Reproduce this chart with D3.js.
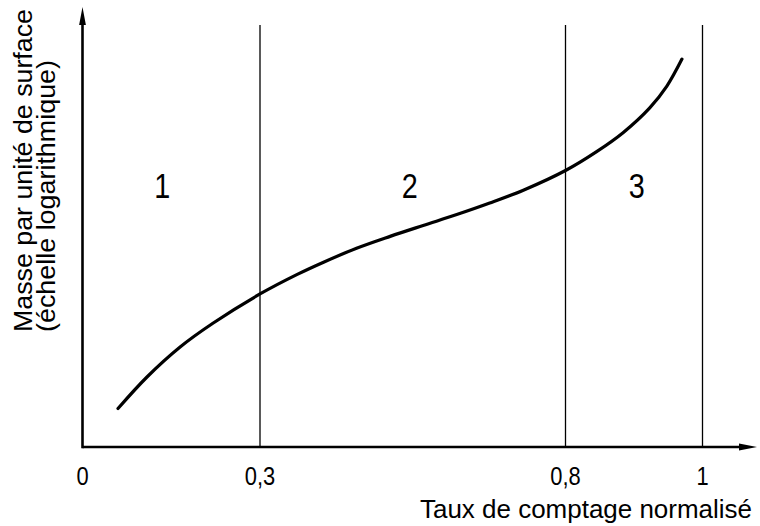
<!DOCTYPE html>
<html>
<head>
<meta charset="utf-8">
<script src="https://cdn.jsdelivr.net/npm/d3@7"></script>
<style>
  html, body { margin: 0; padding: 0; background: #fff; }
  svg { display: block; }
</style>
</head>
<body>
<script>
// ---- data ----
const tickValues = [0, 0.3, 0.8, 1];
const tickLabels = ["0", "0,3", "0,8", "1"];
const boundaryValues = [0.3, 0.8, 1];
const regionLabels = ["1", "2", "3"];
const regionCenters = [0.135, 0.545, 0.904];
const curveX = [0.06, 0.109, 0.165, 0.221, 0.3, 0.361, 0.404, 0.458, 0.513, 0.567, 0.622, 0.676, 0.731, 0.8, 0.846, 0.884, 0.923, 0.948, 0.97];
const curveY = [0.0912, 0.1659, 0.2370, 0.2938, 0.3626, 0.4090, 0.4379, 0.4709, 0.4991, 0.5249, 0.5507, 0.5780, 0.6085, 0.6552, 0.7005, 0.7448, 0.8036, 0.8552, 0.9192];
const xTitle = "Taux de comptage normalisé";
const yTitle = ["Masse par unité de surface", "(échelle logarithmique)"];

// ---- layout ----
const W = 760, H = 526;
const svg = d3.select("body").append("svg").attr("width", W).attr("height", H);

const x = d3.scaleLinear().domain(tickValues).range([82.5, 260, 565.5, 702.5]);
const y = d3.scaleLinear().domain([0, 1]).range([447, 25]);

const x0 = x(0), y0 = y(0);
const axisRight = 757, axisTop = 7;
const narrowFont = "'Liberation Sans', Arial, sans-serif";

// boundary lines
svg.selectAll("line.bound").data(boundaryValues).enter().append("line")
  .attr("class", "bound")
  .attr("x1", d => x(d)).attr("x2", d => x(d))
  .attr("y1", y(1)).attr("y2", y0)
  .attr("stroke", "#000").attr("stroke-width", 1.3);

// axes
svg.append("line").attr("x1", x0).attr("x2", axisRight - 14).attr("y1", y0).attr("y2", y0)
  .attr("stroke", "#000").attr("stroke-width", 2.6);
svg.append("line").attr("x1", x0).attr("x2", x0).attr("y1", y0 + 1.3).attr("y2", axisTop + 14)
  .attr("stroke", "#000").attr("stroke-width", 2.6);
// arrows
svg.append("path")
  .attr("d", `M${axisRight},${y0} L${axisRight - 18},${y0 - 3.4} L${axisRight - 18},${y0 + 3.4} Z`)
  .attr("fill", "#000");
svg.append("path")
  .attr("d", `M${x0},${axisTop} L${x0 - 3.4},${axisTop + 18} L${x0 + 3.4},${axisTop + 18} Z`)
  .attr("fill", "#000");

// curve
const pts = curveX.map((d, i) => [d, curveY[i]]);
const line = d3.line().x(d => x(d[0])).y(d => y(d[1])).curve(d3.curveCatmullRom.alpha(0.5));
svg.append("path").attr("d", line(pts))
  .attr("fill", "none").attr("stroke", "#000").attr("stroke-width", 3.2)
  .attr("stroke-linecap", "round");

// tick labels (narrow technical lettering)
svg.selectAll("text.tick").data(tickValues).enter().append("text")
  .attr("class", "tick")
  .attr("transform", d => `translate(${x(d)},485) scale(0.86,1)`)
  .attr("text-anchor", "middle")
  .attr("font-family", narrowFont)
  .attr("font-size", 25.5)
  .attr("fill", "#000")
  .text((d, i) => tickLabels[i]);

// region labels
svg.selectAll("text.region").data(regionLabels).enter().append("text")
  .attr("class", "region")
  .attr("transform", (d, i) => `translate(${x(regionCenters[i])},198) scale(0.8,1)`)
  .attr("text-anchor", "middle")
  .attr("font-family", narrowFont)
  .attr("font-size", 36)
  .attr("fill", "#000")
  .text(d => d);

// x title
svg.append("text")
  .attr("x", 420).attr("y", 518)
  .attr("font-family", "'Liberation Sans', Arial, sans-serif")
  .attr("font-size", 25)
  .attr("textLength", 332).attr("lengthAdjust", "spacingAndGlyphs")
  .attr("fill", "#000")
  .text(xTitle);

// y title
const yLens = [323, 272];
const yBase = [31.7, 55];
yTitle.forEach((t, i) => {
  svg.append("text")
    .attr("transform", `translate(${yBase[i]},332) rotate(-90)`)
    .attr("font-family", "'Liberation Sans', Arial, sans-serif")
    .attr("font-size", 25)
    .attr("textLength", yLens[i]).attr("lengthAdjust", "spacingAndGlyphs")
    .attr("fill", "#000")
    .text(t);
});
</script>
</body>
</html>
